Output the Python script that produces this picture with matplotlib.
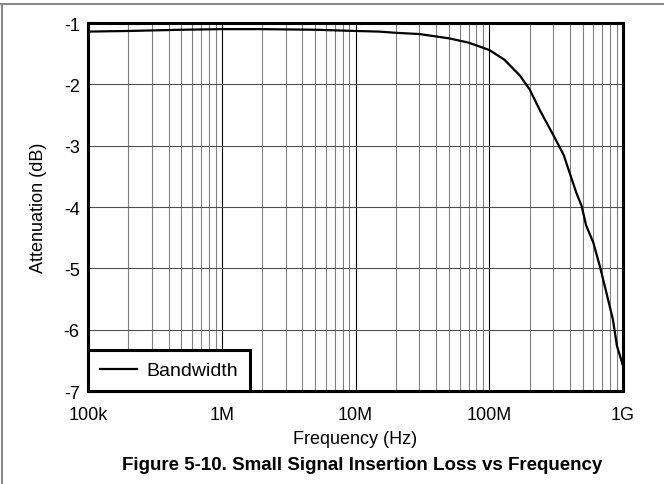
import matplotlib
matplotlib.use("Agg")
import matplotlib.pyplot as plt
from matplotlib.lines import Line2D
from matplotlib.ticker import FixedLocator, LogLocator, NullFormatter

plt.rcParams["font.family"] = ["Liberation Sans", "DejaVu Sans"]

# insertion loss curve (Hz, dB)
freq_hz = [1e5, 2e5, 5e5, 1e6, 2e6, 5e6, 1e7, 1.5e7, 2e7, 3e7, 5e7, 7e7,
           1e8, 1.3e8, 1.7e8, 2e8, 2.4e8, 3e8, 3.6e8, 4.1e8, 4.5e8, 4.9e8,
           5.3e8, 6e8, 6.7e8, 7.5e8, 8.4e8, 9e8, 1e9]
atten_db = [-1.14, -1.13, -1.11, -1.10, -1.10, -1.11, -1.13, -1.14, -1.16,
            -1.18, -1.25, -1.32, -1.44, -1.60, -1.86, -2.08, -2.43, -2.82,
            -3.15, -3.52, -3.78, -3.98, -4.30, -4.58, -4.96, -5.39, -5.83,
            -6.26, -6.59]

x_ticks = [1e5, 1e6, 1e7, 1e8, 1e9]
x_tick_labels = ["100k", "1M", "10M", "100M", "1G"]
y_ticks = [-1, -2, -3, -4, -5, -6, -7]

W, H = 664, 485
fig = plt.figure(figsize=(W / 100, H / 100), dpi=100)
ax = fig.add_axes([88 / W, 1 - 392 / H, (623 - 88) / W, (392 - 24) / H])

ax.plot(freq_hz, atten_db, color="black", lw=1.6, label="Bandwidth", zorder=3)

ax.set_xscale("log")
ax.set_xlim(1e5, 1e9)
ax.set_ylim(-7, -1)
ax.xaxis.set_major_locator(FixedLocator(x_ticks))
ax.set_xticks(x_ticks, x_tick_labels)
ax.xaxis.set_minor_locator(LogLocator(base=10, subs=range(2, 10)))
ax.xaxis.set_minor_formatter(NullFormatter())
ax.set_yticks(y_ticks, [str(v) for v in y_ticks])

ax.grid(which="major", axis="x", color="black", lw=0.8)
ax.grid(which="minor", axis="x", color="#808080", lw=0.8)
ax.grid(which="major", axis="y", color="#505050", lw=0.8)
ax.tick_params(which="both", length=0, labelsize=13)
ax.tick_params(axis="x", pad=11)
ax.tick_params(axis="y", pad=6)

for sp in ax.spines.values():
    sp.set_linewidth(2.2)
    sp.set_zorder(4)

ax.set_xlabel("Frequency (Hz)", fontsize=13)
ax.set_ylabel("Attenuation (dB)", fontsize=13)
ax.xaxis.set_label_coords(0.5, -(431 - 392) / 368)
ax.yaxis.set_label_coords(-(88 - 47) / 535, 0.5)

leg = ax.legend(loc="lower left", borderaxespad=0, fancybox=False,
                framealpha=1, edgecolor="black", fontsize=14,
                handlelength=1.9, handletextpad=0.5, borderpad=0.6)
leg.get_frame().set_linewidth(2.2)
leg.set_zorder(5)

fig.text(362 / W, 1 - 466 / H,
         "Figure 5-10. Small Signal Insertion Loss vs Frequency",
         ha="center", va="center", fontsize=13.5, fontweight="bold")

# page frame lines
fig.add_artist(Line2D([0, 1], [1 - 5 / H, 1 - 5 / H], color="#8a8a8a", lw=1.5))
fig.add_artist(Line2D([1.5 / W, 1.5 / W], [0, 1 - 5 / H], color="#8a8a8a", lw=1.5))

fig.savefig("out.png", dpi=100, facecolor="white")
